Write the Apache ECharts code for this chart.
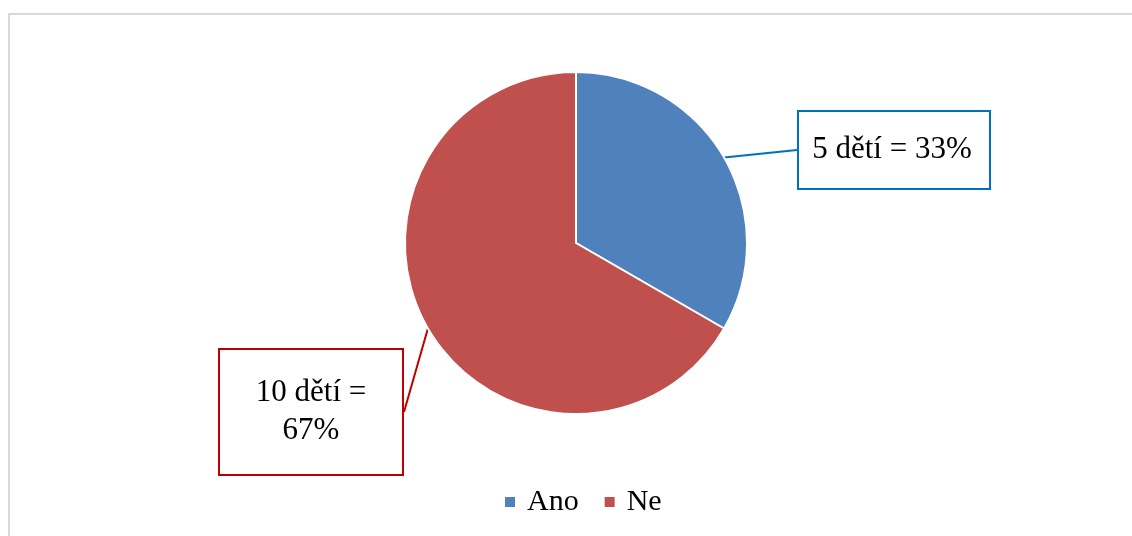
<!DOCTYPE html>
<html>
<head>
<meta charset="utf-8">
<script src="https://cdn.jsdelivr.net/npm/echarts@6/dist/echarts.min.js"></script>
<style>
  html, body { margin: 0; padding: 0; background: #fff; }
  #frame {
    position: absolute; left: 8px; top: 13px;
    width: 1140px; height: 540px;
    border: 2px solid #d9d9d9;
    box-sizing: border-box;
  }
  #chart { position: absolute; left: 0; top: 0; width: 1132px; height: 536px; }
</style>
</head>
<body>
<div id="frame"></div>
<div id="chart"></div>
<script>
// data
const categories = ['Ano', 'Ne']
const counts = [5, 10]
const labelTexts = ['5 dětí = 33%', '10 dětí =\n67%']
const sliceColors = ['#4f81bd', '#c0504d']
const boxColors = ['#0070c0', '#c00000']

// callout box centres, widths and padding (pixels)
const boxCenters = [[894, 150], [311, 412]]
const boxWidths = [186, 182]
const boxPad = [[22, 4, 16, 0], [28, 0, 20, 0]]

const font = "'Liberation Serif', 'Times New Roman', serif"

const chart = echarts.init(document.getElementById('chart'))
chart.setOption({
  animation: false,
  legend: {
    top: 482,
    left: 498,
    icon: 'rect',
    itemWidth: 12,
    itemHeight: 12,
    itemGap: 24,
    textStyle: { fontFamily: font, fontSize: 30, color: '#000', padding: [0, 0, 0, 6] },
    data: categories
  },
  series: [{
    type: 'pie',
    center: [576, 243],
    radius: 171,
    startAngle: 90,
    clockwise: true,
    itemStyle: { borderColor: '#fff', borderWidth: 2 },
    data: categories.map((name, i) => ({
      name,
      value: counts[i],
      itemStyle: { color: sliceColors[i] },
      label: {
        formatter: labelTexts[i],
        borderColor: boxColors[i],
        width: boxWidths[i],
        padding: boxPad[i]
      },
      labelLine: { lineStyle: { color: boxColors[i] } }
    })),
    label: {
      show: true,
      position: 'outside',
      fontFamily: font,
      fontSize: 31,
      lineHeight: 38,
      color: '#000',
      backgroundColor: '#fff',
      borderWidth: 2,
      align: 'center',
      verticalAlign: 'middle'
    },
    labelLine: {
      show: true,
      length: 10,
      length2: 0,
      lineStyle: { width: 2 }
    },
    labelLayout: function (params) {
      const c = boxCenters[params.dataIndex]
      return { x: c[0], y: c[1], align: 'center', verticalAlign: 'middle' }
    }
  }]
})
</script>
</body>
</html>
